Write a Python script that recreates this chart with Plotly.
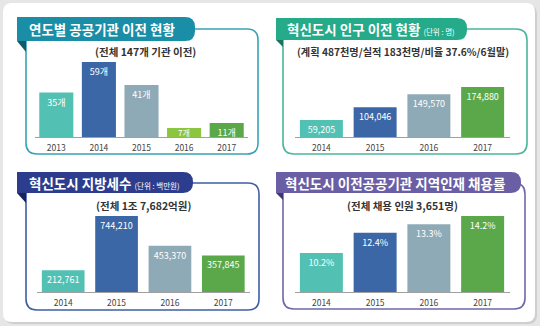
import plotly.graph_objects as go

# ---- data -------------------------------------------------------------
years_agency = ["2013", "2014", "2015", "2016", "2017"]
agencies_moved = [35, 59, 41, 7, 11]

years = ["2014", "2015", "2016", "2017"]
population_moved = [59205, 104046, 149570, 174880]
local_tax = [212761, 744210, 453370, 357845]
local_hire_rate = [10.2, 12.4, 13.3, 14.2]

titles = ["연도별 공공기관 이전 현황", "혁신도시 인구 이전 현황",
          "혁신도시 지방세수", "혁신도시 이전공공기관 지역인재 채용률"]
title_units = ["", "(단위 : 명)", "(단위 : 백만원)", ""]
subtitles = ["(전체 147개 기관 이전)",
             "(계획 487천명/실적 183천명/비율 37.6%/6월말)",
             "(전체 1조 7,682억원)",
             "(전체 채용 인원 3,651명)"]

# ---- style -------------------------------------------------------------
W, H = 540, 326
FONT = "Noto Sans CJK KR, Noto Sans, sans-serif"
TEAL, BLUE, SLATE, LIME, GREEN = "#52c1b4", "#3c67a7", "#8eaab6", "#8cc640", "#5ba84b"
colors5 = [TEAL, BLUE, SLATE, LIME, GREEN]
colors4 = [TEAL, BLUE, SLATE, GREEN]

# banner / border colours per panel
theme = [
    dict(banner="#1b8ea7", fold="#0f5b6c", border="#3aa3b7"),
    dict(banner="#25aa8a", fold="#147560", border="#4ab79c"),
    dict(banner="#2c3d8e", fold="#1a245a", border="#3f5ea6"),
    dict(banner="#6a5ea4", fold="#3f3672", border="#6d69a8"),
]


def px(x):
    return x / W


def py(y):
    return 1 - y / H


def P(x, y):
    return f"{px(x):.5f},{py(y):.5f}"


def rounded_rect(x0, y0, x1, y1, r):
    return (f"M {P(x0 + r, y0)} L {P(x1 - r, y0)} Q {P(x1, y0)} {P(x1, y0 + r)} "
            f"L {P(x1, y1 - r)} Q {P(x1, y1)} {P(x1 - r, y1)} "
            f"L {P(x0 + r, y1)} Q {P(x0, y1)} {P(x0, y1 - r)} "
            f"L {P(x0, y0 + r)} Q {P(x0, y0)} {P(x0 + r, y0)} Z")


def tab(x0, y0, x1, y1, r):
    # square on the left, rounded on the right
    return (f"M {P(x0, y0)} L {P(x1 - r, y0)} Q {P(x1, y0)} {P(x1, y0 + r)} "
            f"L {P(x1, y1 - r)} Q {P(x1, y1)} {P(x1 - r, y1)} L {P(x0, y1)} Z")


shapes = []
# card with soft shadow
shapes.append(dict(type="path", path=rounded_rect(5, 5, 537, 324, 9), xref="paper", yref="paper",
                   fillcolor="#cfcfcf", line=dict(width=0), layer="below"))
shapes.append(dict(type="path", path=rounded_rect(3, 3, 535, 322, 9), xref="paper", yref="paper",
                   fillcolor="#ffffff", line=dict(width=0), layer="below"))

# panel frames: border box, banner, folded corner
frames = [
    dict(box=(26, 29, 258, 154), banner=(17, 17, 195, 41), fold=(17, 41, 26, 52), text_x=27, text_y=29),
    dict(box=(283, 29, 527, 154), banner=(276, 18, 467, 40), fold=(276, 40, 283, 47), text_x=285, text_y=29),
    dict(box=(26, 183, 259, 310), banner=(17, 172, 193, 193), fold=(17, 193, 26, 203), text_x=27, text_y=182.5),
    dict(box=(283, 183, 525, 309), banner=(276, 172, 521, 193), fold=(276, 193, 283, 200), text_x=283, text_y=182.5),
]
for f, t in zip(frames, theme):
    x0, y0, x1, y1 = f["box"]
    shapes.append(dict(type="path", path=rounded_rect(x0, y0, x1, y1, 11), xref="paper", yref="paper",
                       fillcolor="rgba(0,0,0,0)", line=dict(color=t["border"], width=1.6), layer="below"))
    fx0, fy0, fx1, fy1 = f["fold"]
    shapes.append(dict(type="path", path=f"M {P(fx0, fy0)} L {P(fx1, fy0)} L {P(fx1, fy1)} Z",
                       xref="paper", yref="paper", fillcolor=t["fold"], line=dict(width=0), layer="below"))
    bx0, by0, bx1, by1 = f["banner"]
    shapes.append(dict(type="path", path=tab(bx0, by0, bx1, by1, 10), xref="paper", yref="paper",
                       fillcolor=t["banner"], line=dict(width=0), layer="below"))

annotations = []
for i, f in enumerate(frames):
    label = f"<b>{titles[i]}</b>"
    if title_units[i]:
        label += f" <span style='font-size:7.5px'>{title_units[i]}</span>"
    annotations.append(dict(text=label, x=px(f["text_x"]), y=py(f["text_y"]), xref="paper", yref="paper",
                            xanchor="left", yanchor="middle", showarrow=False,
                            font=dict(family=FONT, size=13.5, color="#ffffff")))

sub_pos = [(145, 52), (403, 52), (143, 205), (402, 205)]
sub_size = [10.5, 10.2, 10.5, 10.5]
for s, (sx, sy), fs in zip(subtitles, sub_pos, sub_size):
    annotations.append(dict(text=f"<b>{s}</b>", x=px(sx), y=py(sy), xref="paper", yref="paper",
                            xanchor="center", yanchor="middle", showarrow=False,
                            font=dict(family=FONT, size=fs, color="#333333")))

# ---- bars ---------------------------------------------------------------
bar_common = dict(textposition="inside", insidetextanchor="end", textangle=0,
                  textfont=dict(family=FONT, size=9, color="#ffffff"),
                  hoverinfo="skip", width=0.8, marker_line_width=0)

# very short bars get their label centred on the bar instead of at its top
SHORT = 0.15 * max(agencies_moved)
agency_text = [f"{v}개" if v >= SHORT else "" for v in agencies_moved]
for idx, v in enumerate(agencies_moved):
    if v < SHORT:
        annotations.append(dict(text=f"{v}개", x=idx, y=v / 2, xref="x", yref="y",
                                xanchor="center", yanchor="middle", showarrow=False,
                                font=dict(family=FONT, size=8, color="#ffffff")))

fig = go.Figure()
fig.add_trace(go.Bar(x=years_agency, y=agencies_moved, marker_color=colors5,
                     text=agency_text, texttemplate="%{text}",
                     xaxis="x", yaxis="y", **bar_common))
fig.add_trace(go.Bar(x=years, y=population_moved, marker_color=colors4,
                     texttemplate="%{y:,}", xaxis="x2", yaxis="y2", **bar_common))
fig.add_trace(go.Bar(x=years, y=local_tax, marker_color=colors4,
                     texttemplate="%{y:,}", xaxis="x3", yaxis="y3", **bar_common))
fig.add_trace(go.Bar(x=years, y=local_hire_rate, marker_color=colors4,
                     texttemplate="%{y:.1f}%", xaxis="x4", yaxis="y4", **bar_common))


def xaxis(x0, x1, anchor):
    return dict(domain=[px(x0), px(x1)], anchor=anchor, type="category",
                showline=True, linecolor="#a0a0a0", linewidth=1, ticks="",
                showgrid=False, zeroline=False, fixedrange=True, ticklabelstandoff=3,
                tickfont=dict(family=FONT, size=8.5, color="#444444"))


def yaxis(ytop, ybase, rng, anchor):
    return dict(domain=[py(ybase), py(ytop)], anchor=anchor, range=rng, visible=False,
                showgrid=False, zeroline=False, fixedrange=True)


fig.update_layout(
    width=W, height=H, margin=dict(l=0, r=0, t=0, b=0),
    paper_bgcolor="#e6e6e6", plot_bgcolor="rgba(0,0,0,0)",
    showlegend=False, shapes=shapes, annotations=annotations,
    uniformtext=dict(minsize=9, mode="show"),
    font=dict(family=FONT),
    xaxis=xaxis(35, 248, "y"), yaxis=yaxis(62, 137, [0, 59], "x"),
    xaxis2=xaxis(294.5, 509.5, "y2"), yaxis2=yaxis(87, 137, [0, 174880], "x2"),
    xaxis3=xaxis(36.5, 250, "y3"), yaxis3=yaxis(216, 292, [0, 744210], "x3"),
    xaxis4=xaxis(294.5, 509.5, "y4"), yaxis4=yaxis(216, 292, [6, 14.2], "x4"),
)

fig.write_html("out.html")
